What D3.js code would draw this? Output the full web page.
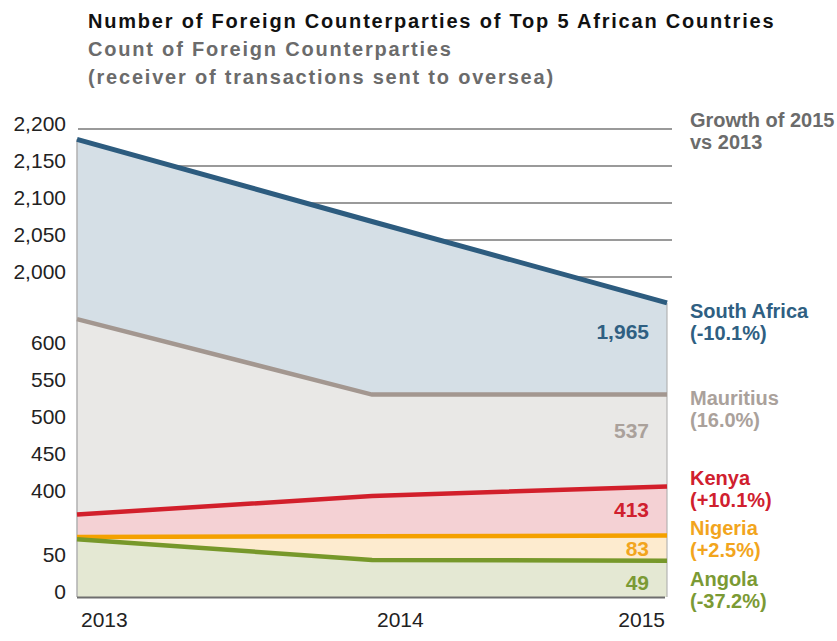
<!DOCTYPE html>
<html>
<head>
<meta charset="utf-8">
<script src="https://cdn.jsdelivr.net/npm/d3@7"></script>
<style>
  html, body { margin: 0; padding: 0; background: #ffffff; }
  svg { display: block; font-family: "Liberation Sans", Arial, sans-serif; }
</style>
</head>
<body>
<svg id="chart" width="837" height="641"></svg>
<script>
// ---- data ----
const years = [2013, 2014, 2015];
const countries = ["South Africa", "Mauritius", "Kenya", "Nigeria", "Angola"];
const southAfrica = [2186, 2075, 1965];
const mauritius = [639, 537, 537];
const kenya = [375, 400, 413];
const nigeria = [81, 82, 83];
const angola = [78, 50, 49];
const growthLabels = ["(-10.1%)", "(16.0%)", "(+10.1%)", "(+2.5%)", "(-37.2%)"];
const yTicks = [0, 50, 400, 450, 500, 550, 600, 2000, 2050, 2100, 2150, 2200];
const gridTicks = [2000, 2050, 2100, 2150, 2200];
const titleText = "Number of Foreign Counterparties of Top 5 African Countries";
const subtitleLines = ["Count of Foreign Counterparties", "(receiver of transactions sent to oversea)"];
const growthHeader = ["Growth of 2015", "vs 2013"];

// ---- styles / layout ----
const lineColors = ["#2d5c7f", "#a39790", "#d21f2b", "#f4a100", "#77982a"];
const fillColors = ["#d5dfe6", "#e9e8e6", "#f4d1d4", "#fdebcf", "#e4e8d3"];
const labelColors = ["#2f5f82", "#aaa19b", "#d0202e", "#f2a51d", "#7b9a34"];
const valueLabelDy = [36, 43, 31, 20, 29];   // below end of line
const sideLabelY = [318, 405, 485, 535, 586];  // baseline of country name

const series = [southAfrica, mauritius, kenya, nigeria, angola];

const svg = d3.select("#chart");

const x = d3.scaleLinear().domain([2013, 2015]).range([77, 667]);
// broken (piecewise) value axis
const y = d3.scaleLinear()
  .domain([0, 84, 370, 640, 1960, 2200])
  .range([597, 534.8, 518.2, 318.4, 306.6, 129]);

// titles
svg.append("text").attr("x", 88).attr("y", 28)
  .attr("font-size", 20).attr("font-weight", "bold").attr("fill", "#111")
  .attr("letter-spacing", "1.8px").text(titleText);
subtitleLines.forEach((t, i) => {
  svg.append("text").attr("x", 88).attr("y", 56 + i * 28)
    .attr("font-size", 20).attr("font-weight", "bold").attr("fill", "#6b6b6b")
    .attr("letter-spacing", "1.8px").text(t);
});

// gridlines (top segment only)
svg.append("g").selectAll("line").data(gridTicks).join("line")
  .attr("x1", 78).attr("x2", 672)
  .attr("y1", d => y(d)).attr("y2", d => y(d))
  .attr("stroke", "#9a9a9a").attr("stroke-width", 2);

// areas
const area = d3.area()
  .x((d, i) => x(years[i]))
  .y0(y(0))
  .y1(d => y(d));
const line = d3.line()
  .x((d, i) => x(years[i]))
  .y(d => y(d));

series.forEach((s, k) => {
  svg.append("path").datum(s).attr("d", area).attr("fill", fillColors[k]);
});

// frame lines
svg.append("line").attr("x1", x(2013)).attr("x2", x(2013))
  .attr("y1", y(southAfrica[0])).attr("y2", y(0))
  .attr("stroke", "#b0b0b0").attr("stroke-width", 1.5);
svg.append("line").attr("x1", x(2015)).attr("x2", x(2015))
  .attr("y1", y(southAfrica[2])).attr("y2", y(0))
  .attr("stroke", "#a8a8a8").attr("stroke-width", 1);
svg.append("line").attr("x1", x(2013)).attr("x2", x(2015) - 2)
  .attr("y1", y(0) + 0.5).attr("y2", y(0) + 0.5)
  .attr("stroke", "#6e6e6e").attr("stroke-width", 2);

// lines
series.forEach((s, k) => {
  svg.append("path").datum(s).attr("d", line)
    .attr("fill", "none").attr("stroke", lineColors[k])
    .attr("stroke-width", k === 0 ? 5 : 4.5).attr("stroke-linejoin", "miter");
});

// y tick labels
svg.append("g").selectAll("text").data(yTicks).join("text")
  .attr("x", 66).attr("y", d => y(d) + 2)
  .attr("text-anchor", "end").attr("font-size", 21).attr("fill", "#222")
  .text(d => d3.format(",")(d));

// x tick labels
const xAnchor = ["start", "start", "end"];
const xDx = [4, 5, -2];
svg.append("g").selectAll("text").data(years).join("text")
  .attr("x", (d, i) => x(d) + xDx[i]).attr("y", 627)
  .attr("text-anchor", (d, i) => xAnchor[i]).attr("font-size", 21).attr("fill", "#222")
  .text(d => d);

// value labels at 2015
series.forEach((s, k) => {
  svg.append("text").attr("x", 649).attr("y", y(s[2]) + valueLabelDy[k])
    .attr("text-anchor", "end").attr("font-size", 21).attr("font-weight", "bold")
    .attr("fill", labelColors[k]).text(d3.format(",")(s[2]));
});

// growth header
growthHeader.forEach((t, i) => {
  svg.append("text").attr("x", 690).attr("y", 127 + i * 22)
    .attr("font-size", 20).attr("font-weight", "bold").attr("fill", "#6b6b6b").text(t);
});

// side labels
countries.forEach((c, k) => {
  const g = svg.append("text").attr("font-size", 20).attr("font-weight", "bold")
    .attr("fill", labelColors[k]);
  g.append("tspan").attr("x", 690).attr("y", sideLabelY[k]).text(c);
  g.append("tspan").attr("x", 690).attr("y", sideLabelY[k] + 22).text(growthLabels[k]);
});
</script>
</body>
</html>
